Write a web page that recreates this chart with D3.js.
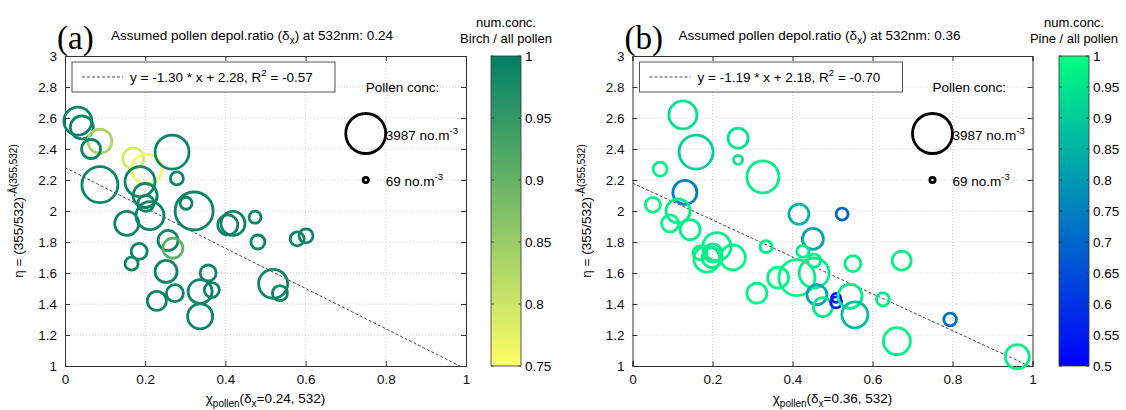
<!DOCTYPE html>
<html>
<head>
<meta charset="utf-8">
<script src="https://cdn.jsdelivr.net/npm/d3@7/dist/d3.min.js"></script>
<style>
  body { margin: 0; background: #fff; }
  svg { font-family: "Liberation Sans", Arial, sans-serif; }
</style>
</head>
<body>
<div id="chart"></div>
<script>
// axis ticks
const xTicks = [0, 0.2, 0.4, 0.6, 0.8, 1];
const yTicks = [1, 1.2, 1.4, 1.6, 1.8, 2, 2.2, 2.4, 2.6, 2.8, 3];

// panel (a): birch
const birchX = [0.032, 0.042, 0.087, 0.065, 0.170, 0.204, 0.267, 0.279, 0.087, 0.187,
  0.200, 0.202, 0.212, 0.154, 0.302, 0.322, 0.257, 0.269, 0.185, 0.166,
  0.252, 0.229, 0.274, 0.337, 0.357, 0.366, 0.337, 0.406, 0.419, 0.474,
  0.481, 0.519, 0.536, 0.579, 0.601];
const birchY = [2.58, 2.54, 2.45, 2.40, 2.34, 2.27, 2.38, 2.21, 2.17, 2.19,
  2.10, 2.05, 1.97, 1.92, 2.05, 2.00, 1.81, 1.76, 1.74, 1.66,
  1.61, 1.42, 1.47, 1.48, 1.60, 1.49, 1.32, 1.91, 1.92, 1.96,
  1.80, 1.53, 1.47, 1.82, 1.84];
const birchConc = [1954, 1318, 1435, 900, 1099, 2243, 2881, 421, 3230, 2243,
  1435, 638, 1954, 1435, 359, 3598, 997, 997, 638, 421,
  1206, 900, 720, 1435, 638, 561, 1557, 997, 1435, 359,
  488, 2096, 561, 488, 488];
const birchFrac = [0.99, 0.99, 0.83, 0.99, 0.79, 0.76, 0.99, 0.99, 0.99, 0.99,
  0.99, 0.99, 0.99, 0.99, 0.99, 0.99, 0.99, 0.91, 0.99, 0.99,
  0.99, 0.99, 0.99, 0.99, 0.99, 0.99, 0.99, 0.99, 0.99, 0.99,
  0.99, 0.99, 0.99, 0.99, 0.99];

// panel (b): pine
const pineX = [0.126, 0.159, 0.069, 0.264, 0.264, 0.326, 0.131, 0.051, 0.114, 0.094,
  0.144, 0.416, 0.524, 0.211, 0.169, 0.186, 0.199, 0.201, 0.251, 0.334,
  0.311, 0.364, 0.411, 0.451, 0.426, 0.454, 0.454, 0.461, 0.476, 0.509,
  0.509, 0.544, 0.556, 0.551, 0.673, 0.626, 0.794, 0.661, 0.962];
const pineY = [2.62, 2.38, 2.27, 2.47, 2.33, 2.22, 2.12, 2.04, 2.00, 1.92,
  1.88, 1.98, 1.98, 1.77, 1.73, 1.69, 1.70, 1.73, 1.70, 1.77,
  1.47, 1.57, 1.57, 1.82, 1.74, 1.68, 1.60, 1.46, 1.38, 1.44,
  1.41, 1.45, 1.33, 1.66, 1.68, 1.43, 1.30, 1.16, 1.06];
const pineConc = [1954, 2881, 488, 997, 202, 2552, 1435, 561, 1435, 720,
  997, 997, 359, 1954, 488, 1685, 997, 807, 1557, 359,
  997, 1099, 3230, 1099, 359, 421, 2243, 997, 900, 202,
  302, 1435, 1685, 638, 900, 421, 400, 1817, 1435];
const pineFrac = [0.95, 0.91, 0.98, 0.95, 0.95, 0.97, 0.75, 0.98, 0.97, 0.98,
  0.97, 0.86, 0.70, 0.97, 0.98, 0.98, 0.97, 0.96, 0.98, 0.97,
  0.98, 0.98, 0.98, 0.83, 0.97, 0.97, 0.97, 0.82, 0.97, 0.52,
  0.55, 0.97, 0.87, 0.97, 0.98, 0.97, 0.72, 0.98, 0.97];

// fits and labels
const panelTags = ["(a)", "(b)"];
const deltaX = ["0.24", "0.36"];
const fitSlope = [-1.30, -1.19];
const fitIntercept = [2.28, 2.18];
const fitR2 = [-0.57, -0.70];
const cbarNames = ["Birch / all pollen", "Pine / all pollen"];
const cbarTicksBirch = [0.75, 0.8, 0.85, 0.9, 0.95, 1];
const cbarTicksPine = [0.5, 0.55, 0.6, 0.65, 0.7, 0.75, 0.8, 0.85, 0.9, 0.95, 1];
const legendConc = [3987, 69];

const W = 1126, H = 410;
const svg = d3.select("#chart").append("svg").attr("width", W).attr("height", H);
const defs = svg.append("defs");

const rScale = d3.scaleSqrt().domain([0, 3987]).range([0, 20]);

const summer = d3.scaleLinear().domain([0.75, 1]).range(["#ffff66", "#008066"]);
const winter = d3.scaleLinear().domain([0.5, 1]).range(["#0000ff", "#00ff80"]);

const panels = [
  { x0: 65, x1: 466, xs: birchX, ys: birchY, cs: birchConc, fs: birchFrac, color: summer, cbTicks: cbarTicksBirch, cbX: 491 },
  { x0: 632.5, x1: 1032.5, xs: pineX, ys: pineY, cs: pineConc, fs: pineFrac, color: winter, cbTicks: cbarTicksPine, cbX: 1059 }
];
const yTop = 56, yBot = 366;

panels.forEach((p, k) => {
  const x = d3.scaleLinear().domain([0, 1]).range([p.x0, p.x1]);
  const y = d3.scaleLinear().domain([1, 3]).range([yBot, yTop]);
  const g = svg.append("g");

  // grid
  g.selectAll(".gx").data(xTicks.slice(1, -1)).enter().append("line")
    .attr("x1", d => x(d)).attr("x2", d => x(d)).attr("y1", yTop).attr("y2", yBot)
    .attr("stroke", "#c4c4c4").attr("stroke-width", 0.8).attr("stroke-dasharray", "1,2");
  g.selectAll(".gy").data(yTicks.slice(1, -1)).enter().append("line")
    .attr("y1", d => y(d)).attr("y2", d => y(d)).attr("x1", p.x0).attr("x2", p.x1)
    .attr("stroke", "#c4c4c4").attr("stroke-width", 0.8).attr("stroke-dasharray", "1,2");

  // axes (ticks inward, on all four sides)
  const tick = 5;
  g.append("g").attr("transform", `translate(0,${yBot})`)
    .call(d3.axisBottom(x).tickValues(xTicks).tickSize(-tick).tickPadding(8).tickFormat(d3.format("")));
  g.append("g").attr("transform", `translate(0,${yTop})`)
    .call(d3.axisTop(x).tickValues(xTicks).tickSize(-tick).tickFormat(""));
  g.append("g").attr("transform", `translate(${p.x0},0)`)
    .call(d3.axisLeft(y).tickValues(yTicks).tickSize(-tick).tickPadding(8).tickFormat(d3.format("")));
  g.append("g").attr("transform", `translate(${p.x1},0)`)
    .call(d3.axisRight(y).tickValues(yTicks).tickSize(-tick).tickFormat(""));
  g.selectAll(".domain").attr("stroke", "#333");
  g.selectAll(".tick line").attr("stroke", "#333");
  g.selectAll(".tick text").attr("font-size", 13.5).attr("fill", "#111")
    .attr("font-family", "Liberation Sans, Arial, sans-serif");

  // regression line (clipped to axes)
  const clipId = "clip" + k;
  defs.append("clipPath").attr("id", clipId).append("rect")
    .attr("x", p.x0).attr("y", yTop).attr("width", p.x1 - p.x0).attr("height", yBot - yTop);
  const fit = d => fitSlope[k] * d + fitIntercept[k];
  g.append("line").attr("clip-path", `url(#${clipId})`)
    .attr("x1", x(0)).attr("y1", y(fit(0))).attr("x2", x(1)).attr("y2", y(fit(1)))
    .attr("stroke", "#333").attr("stroke-width", 0.9).attr("stroke-dasharray", "3,2");

  // bubbles
  g.selectAll(".bub").data(p.xs.map((v, i) => i)).enter().append("circle")
    .attr("cx", i => x(p.xs[i])).attr("cy", i => y(p.ys[i]))
    .attr("r", i => rScale(p.cs[i]))
    .attr("fill", "none").attr("stroke", i => p.color(p.fs[i])).attr("stroke-width", 2.8);

  // size legend
  g.append("text").attr("x", x(0.75)).attr("y", y(2.8)).attr("dy", "0.35em")
    .attr("font-size", 13.5).text("Pollen conc:");
  [2.5, 2.2].forEach((yy, j) => {
    g.append("circle").attr("cx", x(0.75)).attr("cy", y(yy)).attr("r", rScale(legendConc[j]))
      .attr("fill", "none").attr("stroke", "#000").attr("stroke-width", 2.8);
    const t = g.append("text").attr("x", x(0.8)).attr("y", y(yy) + 6).attr("font-size", 13.5);
    t.append("tspan").text(legendConc[j] + " no.m");
    t.append("tspan").attr("dy", -6).attr("font-size", 9.5).text("-3");
  });

  // fit legend box
  const lb = g.append("g").attr("transform", `translate(${p.x0 + 7},${yTop + 6})`);
  lb.append("rect").attr("width", 263).attr("height", 30).attr("fill", "#fff")
    .attr("stroke", "#555").attr("stroke-width", 1);
  lb.append("line").attr("x1", 10).attr("x2", 51).attr("y1", 15).attr("y2", 15)
    .attr("stroke", "#333").attr("stroke-width", 0.9).attr("stroke-dasharray", "3,2");
  const lt = lb.append("text").attr("x", 58).attr("y", 20).attr("font-size", 13.5);
  lt.append("tspan").text(`y = ${fitSlope[k].toFixed(2)} * x + ${fitIntercept[k].toFixed(2)}, R`);
  lt.append("tspan").attr("dy", -6).attr("font-size", 9.5).text("2");
  lt.append("tspan").attr("dy", 6).text(` = ${fitR2[k].toFixed(2)}`);

  // panel tag and title
  svg.append("text").attr("x", p.x0 - 8).attr("y", 49)
    .attr("font-family", "Liberation Serif, Times New Roman, serif").attr("font-size", 33)
    .text(panelTags[k]);
  const tt = svg.append("text").attr("x", p.x0 + 46).attr("y", 40).attr("font-size", 13.5);
  tt.append("tspan").text("Assumed pollen depol.ratio (δ");
  tt.append("tspan").attr("dy", 4).attr("font-size", 10).text("x");
  tt.append("tspan").attr("dy", -4).text(`) at 532nm: ${deltaX[k]}`);

  // x label
  const xl = svg.append("text").attr("x", (p.x0 + p.x1) / 2).attr("y", 403)
    .attr("text-anchor", "middle").attr("font-size", 13.5);
  xl.append("tspan").text("χ");
  xl.append("tspan").attr("dy", 4).attr("font-size", 10).text("pollen");
  xl.append("tspan").attr("dy", -4).text("(δ");
  xl.append("tspan").attr("dy", 4).attr("font-size", 10).text("x");
  xl.append("tspan").attr("dy", -4).text(`=${deltaX[k]}, 532)`);

  // y label
  const yl = svg.append("text")
    .attr("transform", `translate(${p.x0 - 42},${(yTop + yBot) / 2}) rotate(-90)`)
    .attr("text-anchor", "middle").attr("font-size", 13.5);
  yl.append("tspan").text("η = (355/532)");
  yl.append("tspan").attr("dy", -6).attr("font-size", 10).text("-Å(355,532)");

  // colorbar
  const cbW = 30;
  const cy = d3.scaleLinear().domain(d3.extent(p.cbTicks)).range([yBot, yTop]);
  const gradId = "grad" + k;
  const grad = defs.append("linearGradient").attr("id", gradId)
    .attr("x1", 0).attr("x2", 0).attr("y1", 1).attr("y2", 0);
  p.cbTicks.forEach((v, i) => {
    grad.append("stop").attr("offset", i / (p.cbTicks.length - 1)).attr("stop-color", p.color(v));
  });
  const cb = svg.append("g");
  cb.append("rect").attr("x", p.cbX).attr("y", yTop).attr("width", cbW).attr("height", yBot - yTop)
    .attr("fill", `url(#${gradId})`).attr("stroke", "#333").attr("stroke-width", 0.8);
  cb.selectAll(".ct").data(p.cbTicks).enter().append("g").each(function (v) {
    const s = d3.select(this);
    s.append("line").attr("x1", p.cbX).attr("x2", p.cbX + 3).attr("y1", cy(v)).attr("y2", cy(v))
      .attr("stroke", "#333").attr("stroke-width", 0.8);
    s.append("line").attr("x1", p.cbX + cbW - 3).attr("x2", p.cbX + cbW).attr("y1", cy(v)).attr("y2", cy(v))
      .attr("stroke", "#333").attr("stroke-width", 0.8);
    s.append("text").attr("x", p.cbX + cbW + 4).attr("y", cy(v)).attr("dy", "0.35em")
      .attr("font-size", 13.5).text(d3.format("")(v));
  });
  cb.append("text").attr("x", p.cbX + cbW / 2).attr("y", 27).attr("text-anchor", "middle")
    .attr("font-size", 13).text("num.conc.");
  cb.append("text").attr("x", p.cbX + cbW / 2).attr("y", 43).attr("text-anchor", "middle")
    .attr("font-size", 13).text(cbarNames[k]);
});
</script>
</body>
</html>
